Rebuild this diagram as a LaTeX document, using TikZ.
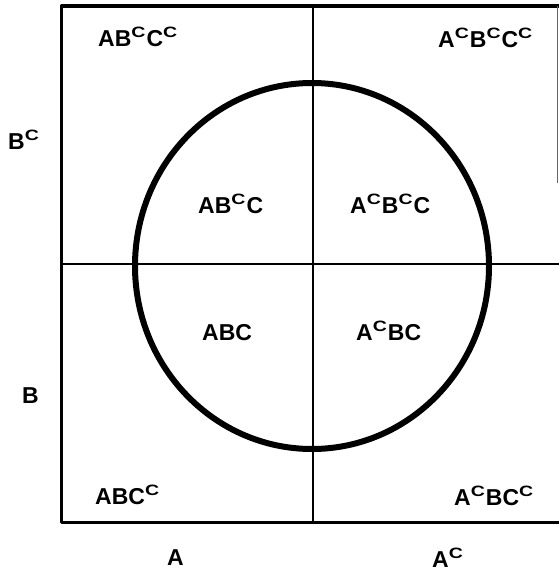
\documentclass[tikz,border=0pt]{standalone}
\usepackage{fontspec}
\usepackage{graphicx}
\setmainfont{Liberation Sans}
\newcommand{\supC}{\raisebox{8.5pt}{\scalebox{1.3}[1]{\fontsize{15}{15}\selectfont\bfseries C}}\kern1pt}
\begin{document}
\begin{tikzpicture}[x=1pt,y=-1pt,
  lbl/.style={anchor=base west,inner sep=0pt,font=\fontsize{23}{23}\selectfont\bfseries},
  frame/.style={line width=3.2pt},
  divider/.style={line width=2.8pt},
  circ/.style={line width=6pt}]
\useasboundingbox (0,0) rectangle (559,573);
% frame
\coordinate (tr) at (559,6);
\coordinate (tl) at (61.5,6);
\coordinate (bl) at (61.5,522.5);
\coordinate (br) at (559,522.5);
\draw[frame,line join=round] (tr) -- (tl) -- (bl) -- (br);
\coordinate (re1) at (557,6);
\coordinate (re2) at (557,183);
\draw[line width=0.8pt,black!60] (re1) -- (re2);
% dividers
\coordinate (vt) at (313,6);
\coordinate (vb) at (313,522.5);
\coordinate (hl) at (61.5,264);
\coordinate (hr) at (559,264);
\draw[divider] (vt) -- (vb);
\draw[divider] (hl) -- (hr);
% circle
\coordinate (cc) at (312,266);
\draw[circ] (cc) ellipse [x radius=177, y radius=183];
% labels
\node[lbl] (n1) at (98,46) {AB\supC C\supC};
\node[lbl] (n2) at (438,47) {A\supC B\supC C\supC};
\node[lbl] (n3) at (8,149) {B\supC};
\node[lbl] (n4) at (198,213) {AB\supC C};
\node[lbl] (n5) at (350,213) {A\supC B\supC C};
\node[lbl] (n6) at (202,340) {ABC};
\node[lbl] (n7) at (356,340) {A\supC BC};
\node[lbl] (n8) at (22,403) {B};
\node[lbl] (n9) at (95,504) {ABC\supC};
\node[lbl] (n10) at (454,505) {A\supC BC\supC};
\node[lbl] (n11) at (167,565) {A};
\node[lbl] (n12) at (432,567) {A\supC};
\end{tikzpicture}
\end{document}
